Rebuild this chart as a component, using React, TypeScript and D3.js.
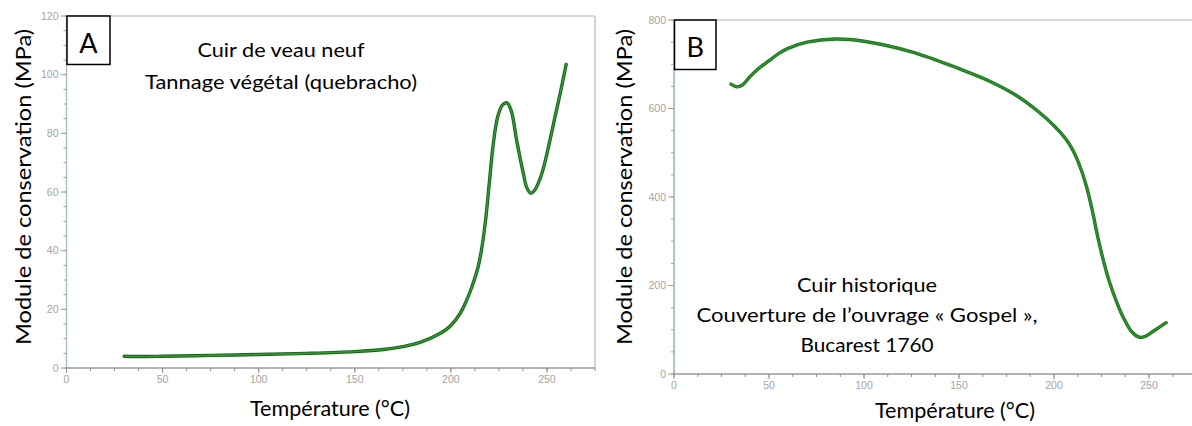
import React from "react";
import * as d3 from "d3";

// ---- Data ----
const tempA = [30, 40, 50, 75, 100, 125, 150, 165, 175, 185, 195, 200, 205, 208, 211, 214, 216, 218, 220, 222, 224.3, 226.8, 229.2, 231.5, 234.2, 237.7, 239.5, 241.6, 243.5, 246.4, 248.5, 251, 254, 257, 260];
const modA = [4.0, 3.9, 4.0, 4.3, 4.6, 5.0, 5.6, 6.3, 7.3, 9.0, 12, 14.5, 18.8, 22.8, 27.8, 34, 40.5, 50, 63, 76, 85.5, 89.6, 90.4, 87.5, 77.7, 66.4, 61.5, 59.6, 60.5, 64.5, 69, 76, 85, 94, 103.5];

const tempB = [30, 33, 36, 40, 45, 50, 55, 60, 70, 85, 100, 125, 150, 165, 180, 192, 200, 206, 210, 214, 217, 220, 223, 226, 229, 233, 237, 241, 245, 248, 252, 259];
const modB = [655, 649, 653, 672, 692, 708, 724, 736, 750, 757, 752, 728, 690, 664, 630, 592, 561, 532, 505, 465, 425, 372, 310, 256, 210, 162, 123, 95, 83, 85, 96, 116];

const xMajorTicks = [0, 50, 100, 150, 200, 250];
const yMajorTicksA = [0, 20, 40, 60, 80, 100, 120];
const yMajorTicksB = [0, 200, 400, 600, 800];

const titleA = ["Cuir de veau neuf", "Tannage végétal (quebracho)"];
const titleB = ["Cuir historique", "Couverture de l’ouvrage « Gospel »,", "Bucarest 1760"];
const yLabel = "Module de conservation (MPa)";
const xLabel = "Température (°C)";

const labelFont = "Lato, 'Open Sans', sans-serif";
const tickFont = "'Liberation Sans', Arial, sans-serif";

type PanelProps = {
  temps: number[];
  mods: number[];
  xDomainMax: number;
  xRange: [number, number];
  yMax: number;
  yRange: [number, number];
  yMajor: number[];
  yMinorStep: number;
  yAxisColor: string;
  letter: string;
  letterBox: [number, number, number, number];
  yLabelX: number;
  xLabelX: number;
  xLabelY: number;
  notes: string[];
  notesX: number;
  notesY: number[];
  notesW: number[];
  rightBorder: boolean;
  doubleStroke: boolean;
};

function Panel(p: PanelProps) {
  const x = d3.scaleLinear().domain([0, p.xDomainMax]).range(p.xRange);
  const y = d3.scaleLinear().domain([0, p.yMax]).range(p.yRange);
  const pts = p.temps.map((t, i) => [t, p.mods[i]] as [number, number]);
  const line = d3
    .line<[number, number]>()
    .x((d) => x(d[0]))
    .y((d) => y(d[1]))
    .curve(d3.curveCatmullRom.alpha(0.5));
  const path = line(pts) || "";
  const x0 = p.xRange[0];
  const x1 = p.xRange[1];
  const y0 = p.yRange[0];
  const y1 = p.yRange[1];
  const xMinor = d3.range(0, p.xDomainMax + 0.001, 12.5);
  const yMinor = d3.range(0, p.yMax + 0.001, p.yMinorStep);
  const yLabelCenter = 187;
  return (
    <g>
      {/* frame */}
      <line x1={x0} x2={x1} y1={y1} y2={y1} stroke="#b4b4b4" strokeWidth={1.2} />
      {p.rightBorder && <line x1={x1} x2={x1} y1={y1} y2={y0} stroke="#a8c0a8" strokeWidth={1.2} />}
      {/* y axis */}
      <line x1={x0} x2={x0} y1={y0} y2={y1} stroke={p.yAxisColor} strokeWidth={1.4} />
      {yMinor.map((v) => (
        <line key={"ym" + v} x1={x0 - 3} x2={x0} y1={y(v)} y2={y(v)} stroke="#a0a0a0" strokeWidth={1} />
      ))}
      {p.yMajor.map((v) => (
        <g key={"yM" + v}>
          <line x1={x0 - 6} x2={x0} y1={y(v)} y2={y(v)} stroke="#a0a0a0" strokeWidth={1} />
          <text x={x0 - 8} y={y(v) + 3.8} textAnchor="end" fontSize={10.5} fill="#a3a3a3" fontFamily={tickFont}>
            {v}
          </text>
        </g>
      ))}
      {/* x axis */}
      <line x1={x0} x2={x1} y1={y0} y2={y0} stroke="#9a9a9a" strokeWidth={1.4} />
      {xMinor.map((v) => (
        <line key={"xm" + v} x1={x(v)} x2={x(v)} y1={y0} y2={y0 + 3} stroke="#909090" strokeWidth={1} />
      ))}
      {xMajorTicks.map((v) => (
        <g key={"xM" + v}>
          <line x1={x(v)} x2={x(v)} y1={y0} y2={y0 + 5} stroke="#909090" strokeWidth={1} />
          <text x={x(v)} y={y0 + 15} textAnchor="middle" fontSize={10.5} fill="#a3a3a3" fontFamily={tickFont}>
            {v}
          </text>
        </g>
      ))}
      {/* curve */}
      {p.doubleStroke ? (
        <>
          <path d={path} fill="none" stroke="#1d5e1d" strokeWidth={3.4} strokeLinecap="round" />
          <path d={path} fill="none" stroke="#2f9a2f" strokeWidth={1.6} strokeLinecap="round" />
        </>
      ) : (
        <>
          <path d={path} fill="none" stroke="#1f701f" strokeWidth={3.4} strokeLinecap="round" />
          <path d={path} fill="none" stroke="#2a8e2a" strokeWidth={2} strokeLinecap="round" />
        </>
      )}
      {/* letter box */}
      <rect
        x={p.letterBox[0]}
        y={p.letterBox[1]}
        width={p.letterBox[2]}
        height={p.letterBox[3]}
        fill="#fff"
        stroke="#000"
        strokeWidth={1.5}
      />
      <text
        x={p.letterBox[0] + p.letterBox[2] / 2}
        y={p.letterBox[1] + 36.5}
        textAnchor="middle"
        fontSize={27}
        fontFamily={labelFont}
        fill="#000"
      >
        {p.letter}
      </text>
      {/* notes */}
      {p.notes.map((t, i) => (
        <text
          key={t}
          x={p.notesX}
          y={p.notesY[i]}
          textAnchor="middle"
          fontSize={20}
          fontFamily={labelFont}
          fill="#000"
          textLength={p.notesW[i]}
          lengthAdjust="spacingAndGlyphs"
        >
          {t}
        </text>
      ))}
      {/* axis labels */}
      <text
        transform={`translate(${p.yLabelX},${yLabelCenter}) rotate(-90)`}
        textAnchor="middle"
        fontSize={21}
        fontFamily={labelFont}
        fill="#000"
        textLength={316}
        lengthAdjust="spacingAndGlyphs"
      >
        {yLabel}
      </text>
      <text
        x={p.xLabelX}
        y={p.xLabelY}
        textAnchor="middle"
        fontSize={21}
        fontFamily={labelFont}
        fill="#000"
        textLength={160}
        lengthAdjust="spacingAndGlyphs"
      >
        {xLabel}
      </text>
    </g>
  );
}

export default function App() {
  return (
    <svg
      width={1192}
      height={426}
      style={{ position: "absolute", left: 0, top: 0, background: "#fff" }}
    >
      <rect x={0} y={0} width={1192} height={426} fill="#fff" />
      <Panel
        temps={tempA}
        mods={modA}
        xDomainMax={275}
        xRange={[66.5, 595]}
        yMax={120}
        yRange={[368, 16]}
        yMajor={yMajorTicksA}
        yMinorStep={5}
        yAxisColor="#a6c2a6"
        letter="A"
        letterBox={[67, 16, 43, 48.5]}
        yLabelX={31}
        xLabelX={330}
        xLabelY={416}
        notes={titleA}
        notesX={281}
        notesY={[57, 89]}
        notesW={[167, 272]}
        rightBorder={true}
        doubleStroke={true}
      />
      <Panel
        temps={tempB}
        mods={modB}
        xDomainMax={272.6}
        xRange={[674, 1192]}
        yMax={800}
        yRange={[374, 20]}
        yMajor={yMajorTicksB}
        yMinorStep={50}
        yAxisColor="#8fb38f"
        letter="B"
        letterBox={[674.5, 20, 41.5, 49.5]}
        yLabelX={632}
        xLabelX={955}
        xLabelY={418}
        notes={titleB}
        notesX={867}
        notesY={[292, 322, 352]}
        notesW={[140, 341, 133]}
        rightBorder={false}
        doubleStroke={false}
      />
    </svg>
  );
}
